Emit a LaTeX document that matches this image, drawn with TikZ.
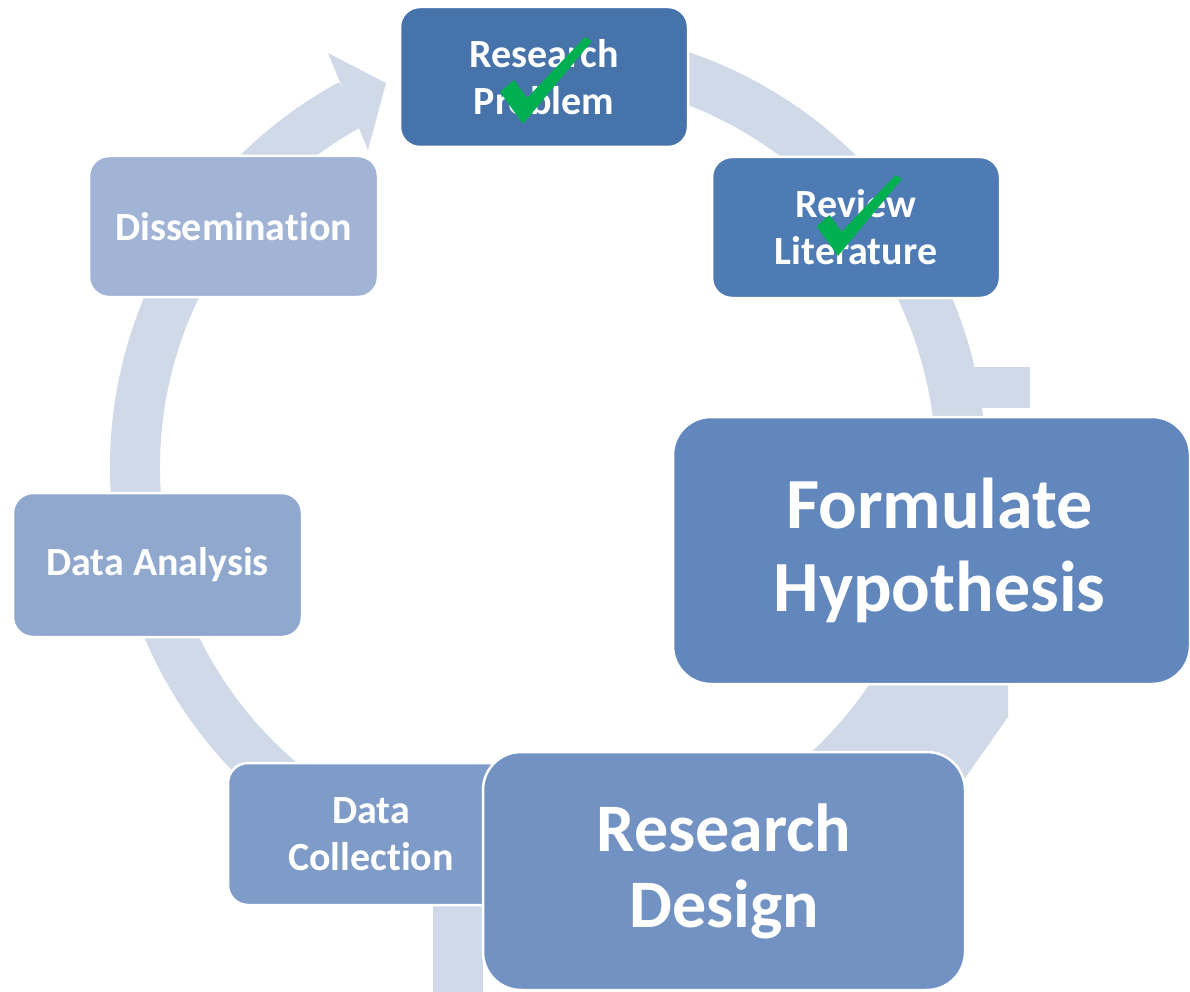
\documentclass[tikz,border=0pt]{standalone}
\usepackage{fontspec}
\setmainfont[Ligatures=NoCommon]{Carlito}
\definecolor{ringc}{HTML}{D0D9E8}
\definecolor{cRP}{HTML}{4673AA}
\definecolor{cRL}{HTML}{4F7BB5}
\definecolor{cFH}{HTML}{6287BD}
\definecolor{cRD}{HTML}{7192C2}
\definecolor{cDC}{HTML}{7F9BC8}
\definecolor{cDA}{HTML}{90A8CE}
\definecolor{cDS}{HTML}{A1B4D6}
\definecolor{checkc}{HTML}{00B050}
\begin{document}
\begin{tikzpicture}[x=1pt,y=1pt,
  stage/.style={draw=white, line width=2.5pt, rounded corners=#1, text=white,
    align=center, inner sep=0pt},
  smalltxt/.style={font=\fontsize{40}{47}\selectfont\bfseries},
  bigtxt/.style={font=\fontsize{72}{83}\selectfont\bfseries},
  ringline/.style={draw=ringc, line width=50pt},
  chk/.pic={\fill[checkc] (-22,31) -- (-8,43) -- (5,25) -- (63,86) -- (70,82) -- (1,-1) -- cycle;}
]
\useasboundingbox (0,0) rectangle (1190,-992);
% ring
\coordinate (c) at (548,-467);
\draw[ringline] ([shift={(100:413)}]c) arc[start angle=100, end angle=-241.5, radius=413];
\fill[ringc] (328,-53) -- (386,-83) -- (368,-150) -- cycle;
% patches
\fill[ringc] (938,-367) rectangle (1030,-408);
\fill[ringc] (905,-680) -- (1008,-680) -- (1008,-717) -- (960,-785) -- (860,-790) -- cycle;
\fill[ringc] (433,-900) rectangle (483,-992);
% stages
\node[stage=20pt, fill=cRP, smalltxt, minimum width=288pt, minimum height=140pt] (rp) at (544,-77) {Research\\Problem};
\node[stage=20pt, fill=cRL, smalltxt, minimum width=288pt, minimum height=141pt] (rl) at (856,-227.5) {Review\\Literature};
\node[stage=20pt, fill=cDS, smalltxt, minimum width=289pt, minimum height=141pt] (ds) at (233.5,-226.5) {Dissemination};
\node[stage=20pt, fill=cDA, smalltxt, minimum width=289pt, minimum height=144pt] (da) at (157.5,-565) {Data Analysis};
\node[stage=20pt, fill=cDC, smalltxt, minimum width=286pt, minimum height=142pt] (dc) at (371,-834) {Data\\Collection};
\node[stage=38pt, fill=cFH, bigtxt, minimum width=517pt, minimum height=267pt] (fh) at (931.5,-550.5) {\hspace*{16pt}Formulate\\\hspace*{16pt}Hypothesis};
\node[stage=38pt, fill=cRD, font=\fontsize{68}{76}\selectfont\bfseries, minimum width=482pt, minimum height=238pt] (rd) at (724,-871) {Research\\Design};
% check marks
\pic at (522,-123) {chk};
\pic[scale=0.93] at (837,-255) {chk};
\end{tikzpicture}
\end{document}
